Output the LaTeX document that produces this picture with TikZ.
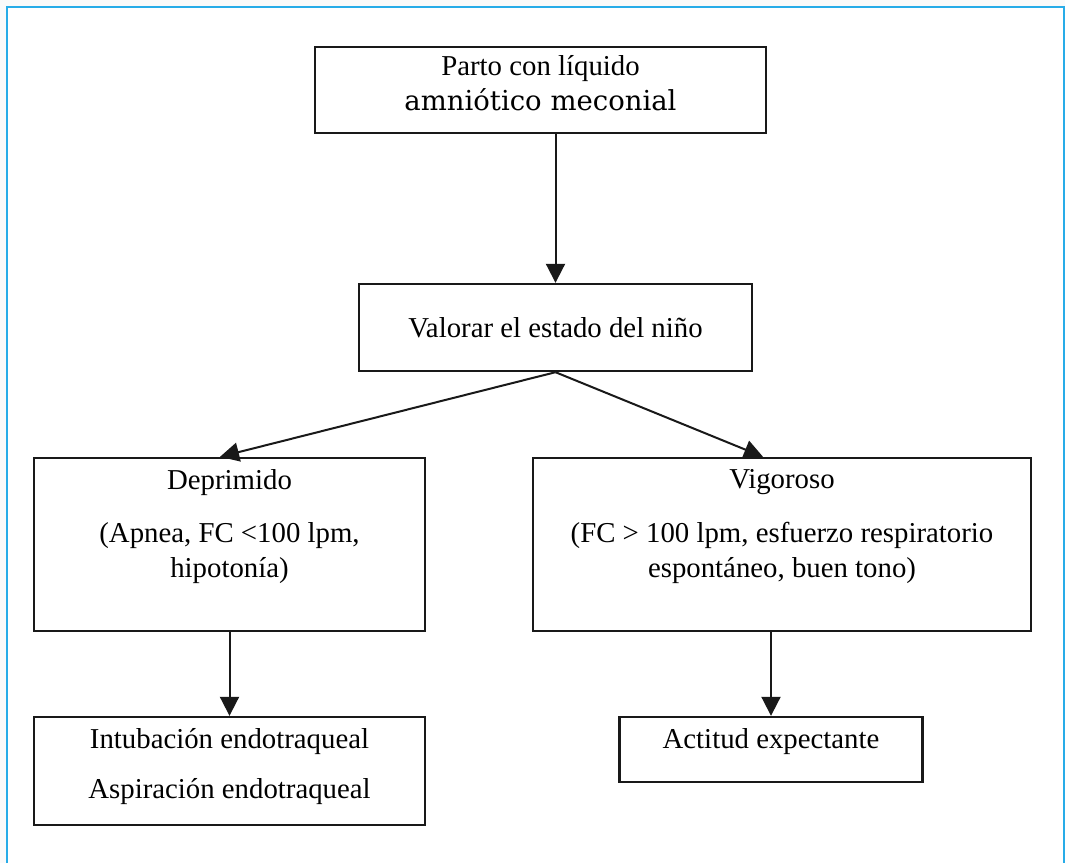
\documentclass[tikz,border=0pt]{standalone}
\usepackage{fontspec}
\setmainfont{Liberation Serif}
\newfontfamily\altserif{DejaVu Serif}
\usetikzlibrary{arrows.meta}
\definecolor{framebl}{RGB}{40,172,232}
\definecolor{ink}{RGB}{25,25,25}
\begin{document}
\begin{tikzpicture}[x=1pt,y=-1pt,
  box/.style={draw=ink, line width=2.4pt, rectangle, inner sep=0pt},
  lbl/.style={anchor=base, inner sep=0pt, text=black, font=\fontsize{28.8}{34}\selectfont},
  arr/.style={draw=ink, line width=2pt, -{Triangle[length=19pt,width=19pt]}}]
\useasboundingbox (0,0) rectangle (1065,863);
\fill[white!98!black] (0,0) rectangle (1065,863);
\fill[white] (8,8) rectangle (1063,863);
\draw[framebl, line width=2pt] (7,863) -- (7,7) -- (1064,7) -- (1064,863);

% boxes
\node[box, minimum width=451pt, minimum height=86pt] (top) at (540.5,90) {};
\node[box, minimum width=393pt, minimum height=87pt] (mid) at (555.5,327.5) {};
\node[box, minimum width=391pt, minimum height=173pt] (dep) at (229.5,544.5) {};
\node[box, minimum width=498pt, minimum height=173pt] (vig) at (782,544.5) {};
\node[box, minimum width=391pt, minimum height=108pt] (int) at (229.5,771) {};
\node[box, minimum width=303pt, minimum height=65pt] (act) at (771,749.5) {};

% texts
\node[lbl] (t1) at (540.5,75) {Parto con líquido};
\node[lbl, font=\altserif\fontsize{27.5}{34}\selectfont] (t2) at (540.5,110) {amniótico meconial};
\node[lbl] (t3) at (555.5,337) {Valorar el estado del niño};
\node[lbl] (t4) at (229.5,489) {Deprimido};
\node[lbl] (t5) at (229.5,542) {(Apnea, FC <100 lpm,};
\node[lbl] (t6) at (229.5,577) {hipotonía)};
\node[lbl] (t7) at (782,488) {Vigoroso};
\node[lbl] (t8) at (782,542) {(FC > 100 lpm, esfuerzo respiratorio};
\node[lbl] (t9) at (782,577) {espontáneo, buen tono)};
\node[lbl] (t10) at (229.5,748) {Intubación endotraqueal};
\node[lbl] (t11) at (229.5,798) {Aspiración endotraqueal};
\node[lbl] (t12) at (771,748) {Actitud expectante};

% connectors
\draw[arr] (top.south -| mid.north) -- (mid.north);
\draw[arr] (mid.south) -- ([xshift=-9.5pt]dep.north);
\draw[arr] (mid.south) -- ([xshift=-19pt]vig.north);
\draw[arr] (dep.south) -- (int.north);
\draw[arr] (vig.south -| act.north) -- (act.north);
\end{tikzpicture}
\end{document}
